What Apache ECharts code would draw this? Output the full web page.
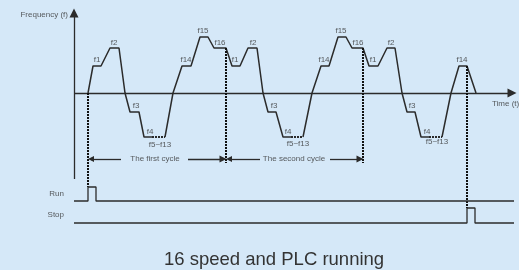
<!DOCTYPE html>
<html>
<head>
<meta charset="utf-8">
<script src="https://cdn.jsdelivr.net/npm/echarts@6.0.0/dist/echarts.min.js"></script>
<style>
  html, body { margin: 0; padding: 0; background: #d5e8f8; }
  #chart { width: 519px; height: 270px; }
</style>
</head>
<body>
<div id="chart"></div>
<script>
// 频率曲线 (时间, 频率)，f5~f13 段单独用虚线画，所以实线分成几段
const waveSolid = [
  [[14, 0], [19, 27], [27, 27], [36, 45], [45, 45], [51, 0], [56, -19], [65, -19], [70, -44], [78, -44]],
  [[91, -44], [99, 0], [108, 27], [117, 27], [126, 56], [134, 56], [140, 45], [152, 45], [158, 27], [166, 27],
   [174, 45], [183, 45], [189, 0], [194, -19], [202, -19], [209, -44], [217, -44]],
  [[229, -44], [238, 0], [247, 27], [255, 27], [264, 56], [272, 56], [278, 45], [289, 45], [295, 27], [304, 27],
   [313, 45], [321, 45], [328, 0], [333, -19], [341, -19], [347, -44], [355, -44]],
  [[368, -44], [377, 0], [385, 27], [393, 27], [402, 0]]
];
const waveDotted = [
  [[78, -44], [91, -44]],
  [[217, -44], [229, -44]],
  [[355, -44], [368, -44]]
];

// 竖虚线 (周期分界 / 启停)
const markerLines = [
  [[14, 0], [14, -94]],
  [[152, 45], [152, -70]],
  [[289, 45], [289, -70]],
  [[393, 27], [393, -115]]
];

// Run / Stop 信号
const runSignal = [[0, -108], [14, -108], [14, -94], [22, -94], [22, -108], [440, -108]];
const stopSignal = [[0, -130], [393, -130], [393, -115], [401, -115], [401, -130], [440, -130]];

// 坐标轴 (带箭头)
const axisLines = [
  [[0, -86], [0, 80]],
  [[0, 0], [438, 0]]
];

// 周期箭头
const cycleArrowsLeft = [
  [[17, -66], [47, -66]],
  [[155, -66], [186, -66]]
];
const cycleArrowsRight = [
  [[114, -66], [149, -66]],
  [[256, -66], [286, -66]]
];

// 频率标签 [时间, 频率, 文本]
const freqLabels = [
  [23, 33, "f1"], [40, 50, "f2"], [62, -13, "f3"], [76, -39, "f4"], [86, -52, "f5~f13"],
  [112, 33, "f14"], [129, 62, "f15"], [146, 50, "f16"],
  [161, 33, "f1"], [179, 50, "f2"], [200, -13, "f3"], [214, -39, "f4"], [224, -51, "f5~f13"],
  [250, 33, "f14"], [267, 62, "f15"], [284, 50, "f16"],
  [299, 33, "f1"], [317, 50, "f2"], [338, -13, "f3"], [353, -39, "f4"], [363, -49, "f5~f13"],
  [388, 33, "f14"]
];
const cycleLabels = [[81, -66, "The first cycle"], [220, -66, "The second cycle"]];
const leftLabels = [[-10, -101, "Run"], [-10, -122, "Stop"], [-6, 78, "Frequency (f)"]];
const timeLabel = [[418, -11, "Time (t)"]];

const lineColor = "#2b2b2b";
const textColor = "#333";

function lineSeries(pts, style) {
  return {
    type: "line",
    data: pts,
    showSymbol: false,
    symbol: "none",
    silent: true,
    clip: false,
    lineStyle: style
  };
}

function textSeries(pts, align, size) {
  return {
    type: "scatter",
    data: pts,
    symbolSize: 0,
    silent: true,
    clip: false,
    label: {
      show: true,
      position: "inside",
      align: align,
      verticalAlign: "middle",
      formatter: (p) => p.data[2],
      color: textColor,
      fontSize: size,
      fontFamily: "Liberation Sans"
    }
  };
}

function arrowSeries(segs, symbol, size) {
  return {
    type: "lines",
    coordinateSystem: "cartesian2d",
    silent: true,
    symbol: symbol,
    symbolSize: size,
    lineStyle: { color: lineColor, width: 1.3, opacity: 1 },
    itemStyle: { color: lineColor },
    data: segs.map((c) => ({ coords: c }))
  };
}

let series = [];
waveSolid.forEach((s) => series.push(lineSeries(s, { color: lineColor, width: 1.5 })));
waveDotted.forEach((s) => series.push(lineSeries(s, { color: lineColor, width: 2, type: [2, 1] })));
markerLines.forEach((s) => series.push(lineSeries(s, { color: "#111", width: 2, type: [2, 1] })));
series.push(lineSeries(runSignal, { color: lineColor, width: 1.3 }));
series.push(lineSeries(stopSignal, { color: lineColor, width: 1.3 }));
series.push(arrowSeries(axisLines, ["none", "triangle"], [6, 9]));
series.push(arrowSeries(cycleArrowsLeft, ["triangle", "none"], [6, 7]));
series.push(arrowSeries(cycleArrowsRight, ["none", "triangle"], [6, 7]));
series.push(textSeries(freqLabels, "center", 8));
series.push(textSeries(cycleLabels, "center", 8));
series.push(textSeries(leftLabels, "right", 8));
series.push(textSeries(timeLabel, "left", 8));

let option = {
  animation: false,
  backgroundColor: "#d5e8f8",
  title: {
    text: "16 speed and PLC running",
    left: 159,
    top: 245,
    textStyle: {
      fontSize: 18.5,
      fontWeight: "normal",
      color: textColor,
      fontFamily: "Liberation Sans"
    }
  },
  grid: { left: 0, right: 0, top: 0, bottom: 0 },
  xAxis: { type: "value", min: -74, max: 445, show: false },
  yAxis: { type: "value", min: -177, max: 93, show: false },
  series: series
};

let myChart = echarts.init(document.getElementById("chart"));
myChart.setOption(option);
</script>
</body>
</html>
